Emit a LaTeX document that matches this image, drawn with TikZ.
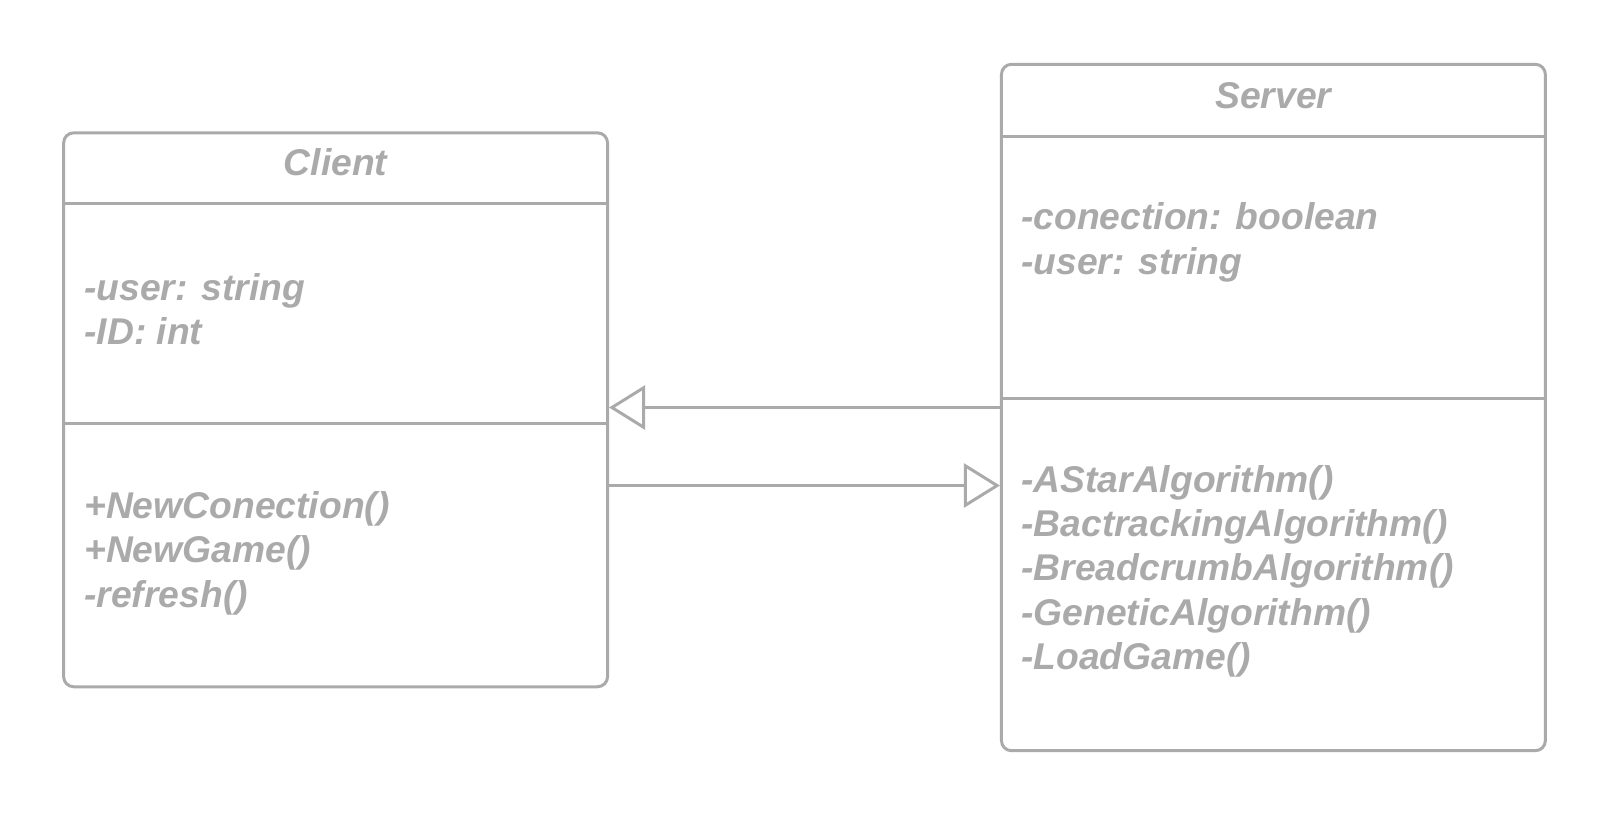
\documentclass[tikz,border=0pt]{standalone}
\usepackage{fontspec}
\setmainfont{Liberation Sans}
\usepackage{xcolor}
\usetikzlibrary{arrows.meta, positioning}
\definecolor{umlgray}{RGB}{170,170,170}

\begin{document}
\begin{tikzpicture}[
  x=0.02cm, y=-0.02cm,
  font=\fontsize{21.2}{25.2}\selectfont\bfseries\itshape,
  classbox/.style={draw=umlgray, line width=1.7pt, rounded corners=0.2cm, inner sep=0, minimum width=10.88cm},
  classname/.style={anchor=base, inner sep=0, text=umlgray},
  members/.style={anchor=base west, align=left, inner sep=0, text=umlgray},
  divider/.style={draw=umlgray, line width=1.7pt},
  arrow/.style={-{Triangle[open, length=0.72cm, width=0.88cm]}, draw=umlgray, line width=1.7pt}
]
\useasboundingbox (0,0) rectangle (1614,816);

% Class boxes
\node[classbox, minimum height=11.08cm] (client) at (335.6,409.8) {};
\node[classbox, minimum height=13.73cm] (server) at (1273.4,407.5) {};

% Compartment lines
\draw[divider] (client.west |- 0,203.5) -- (client.east |- 0,203.5);
\draw[divider] (client.west |- 0,423.3) -- (client.east |- 0,423.3);
\draw[divider] (server.west |- 0,136) -- (server.east |- 0,136);
\draw[divider] (server.west |- 0,398.6) -- (server.east |- 0,398.6);

% Client texts (base = last line)
\node[classname] (clientname) at (335.6,175) {Client};
\node[members] (clientattr) at (84,344.5) {-user: string\\-ID: int};
\node[members] (clientops) at (84,607) {+NewConection()\\+NewGame()\\-refresh()};

% Server texts
\node[classname] (servername) at (1273.4,108.3) {Server};
\node[members] (serverattr) at (1021,274) {-conection: boolean\\-user: string};
\node[members] (serverops) at (1021,669.5) {-AStarAlgorithm()\\-BactrackingAlgorithm()\\-BreadcrumbAlgorithm()\\-GeneticAlgorithm()\\-LoadGame()};

% Arrows
\draw[arrow] (server.west) -- (server.west -| client.east);
\draw[arrow] ([yshift=-1.515cm]client.east) -- ([yshift=-1.515cm]client.east -| server.west);

\end{tikzpicture}
\end{document}
